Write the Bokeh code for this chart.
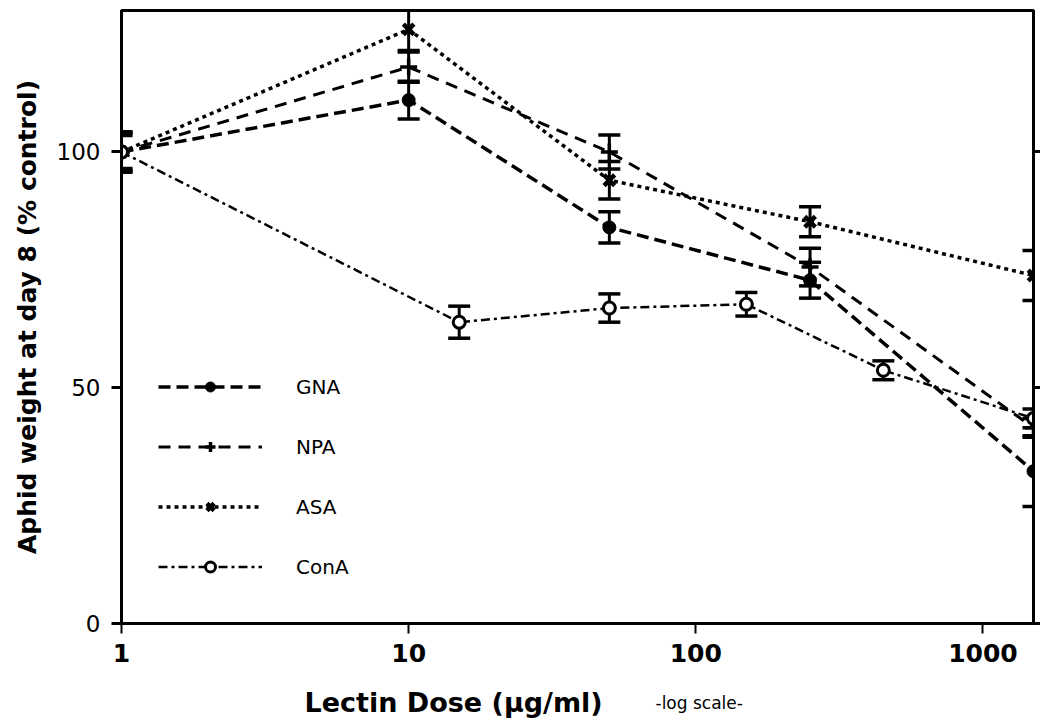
from bokeh.plotting import figure
from bokeh.models import (Range1d, LinearAxis, FixedTicker, Legend, LegendItem, Label,
                          NumeralTickFormatter, CustomJSTickFormatter)
from bokeh.embed import file_html
from bokeh.resources import INLINE

# ---- data ----
dose_main = [1, 10, 50, 250, 1500]
gna = [100, 111, 84, 72.8, 32.3]
gna_err = [4.0, 4.0, 3.3, 3.8, 7.5]
npa = [100, 118, 100, 75.6, 41.5]
npa_err = [3.5, 3.2, 3.6, 4.0, 2.0]
asa = [100, 126, 94, 85.2, 73.8]
asa_err = [4.3, 4.5, 4.0, 3.2, 5.3]
dose_cona = [1, 15, 50, 150, 450, 1500]
cona = [100, 63.9, 66.9, 67.7, 53.7, 43.5]
cona_err = [4.0, 3.4, 3.0, 2.5, 2.0, 2.0]

x_ticks = [1, 10, 100, 1000]
y_ticks = [0, 50, 100]

FONT = "DejaVu Sans"

p = figure(width=1040, height=720, x_axis_type="log",
           x_range=Range1d(1, 1500), y_range=Range1d(0, 130),
           output_backend="svg", toolbar_location=None,
           min_border_left=121, min_border_top=10, min_border_bottom=97, min_border_right=0)
p.grid.visible = False
p.outline_line_color = "black"
p.outline_line_width = 3
p.background_fill_color = "white"
p.border_fill_color = "white"

# x axis
xa = p.xaxis[0]
xa.ticker = FixedTicker(ticks=x_ticks)
xa.formatter = NumeralTickFormatter(format="0")
xa.minor_tick_line_color = None
xa.axis_line_width = 3
xa.major_tick_line_width = 2
xa.major_tick_out = 10
xa.major_tick_in = 0
xa.major_label_standoff = 10
xa.major_label_text_font = FONT
xa.major_label_text_font_style = "bold"
xa.major_label_text_font_size = "25px"
xa.major_label_text_color = "black"

# y axis
ya = p.yaxis[0]
ya.ticker = FixedTicker(ticks=y_ticks)
ya.minor_tick_line_color = None
ya.axis_line_width = 3
ya.major_tick_line_width = 3
ya.major_tick_out = 10
ya.major_tick_in = 0
ya.major_label_standoff = 11
ya.major_label_text_font = FONT
ya.major_label_text_font_size = "23px"
ya.major_label_text_color = "black"
ya.axis_label = "Aphid weight at day 8 (% control)"
ya.axis_label_text_font = FONT
ya.axis_label_text_font_style = "bold"
ya.axis_label_text_font_size = "25px"
ya.axis_label_text_color = "black"
ya.axis_label_standoff = 12

# right axis with outward ticks, no labels
ra = LinearAxis(ticker=FixedTicker(ticks=y_ticks),
                formatter=CustomJSTickFormatter(code="return ''"),
                axis_line_width=3, major_tick_line_width=3, major_tick_out=7, major_tick_in=0,
                minor_tick_line_color=None, major_label_standoff=0)
p.add_layout(ra, "right")


def draw(dose, vals, errs, dash, lw, marker, msize, mlw, fill):
    ln = p.line(dose, vals, line_color="black", line_width=lw, line_dash=dash)
    lo = [v - e for v, e in zip(vals, errs)]
    hi = [v + e for v, e in zip(vals, errs)]
    p.segment(x0=dose, y0=lo, x1=dose, y1=hi, line_color="black", line_width=3)
    p.scatter(dose, hi, marker="dash", size=22, line_color="black", line_width=3.5)
    p.scatter(dose, lo, marker="dash", size=22, line_color="black", line_width=3.5)
    mk = p.scatter(dose, vals, marker=marker, size=msize, line_color="black",
                   line_width=mlw, fill_color=fill)
    return ln, mk


g = draw(dose_main, gna, gna_err, "12 6", 3.5, "circle", 13, 1, "black")
n = draw(dose_main, npa, npa_err, "12 8", 3, "cross", 17, 3.5, "black")
a = draw(dose_main, asa, asa_err, "4 4", 3.5, "x", 15, 4.5, "black")
c = draw(dose_cona, cona, cona_err, "9 4 3 4", 2.5, "circle", 12, 3, "white")

legend = Legend(items=[
    LegendItem(label="GNA", renderers=list(g)),
    LegendItem(label="NPA", renderers=list(n)),
    LegendItem(label="ASA", renderers=list(a)),
    LegendItem(label="ConA", renderers=list(c)),
], location=(37, 44), glyph_width=104, glyph_height=25, spacing=35,
    label_standoff=34, padding=0, margin=0, border_line_color=None,
    background_fill_alpha=0, label_text_font=FONT, label_text_font_size="20px",
    label_height=25, label_text_color="black")
p.add_layout(legend)

# x axis title in the panel below the axis: bold part + normal "-log scale-"
p.add_layout(Label(x=183, y=-7, x_units="screen", y_units="screen",
                   text="Lectin  Dose  (µg/ml)", text_font=FONT,
                   text_font_style="bold", text_font_size="27px", text_baseline="middle",
                   text_color="black"), "below")
p.add_layout(Label(x=534, y=13, x_units="screen", y_units="screen",
                   text="-log scale-", text_font=FONT,
                   text_font_size="17px", text_baseline="middle", text_color="black"), "below")

open("out.html", "w").write(file_html(p, INLINE))
